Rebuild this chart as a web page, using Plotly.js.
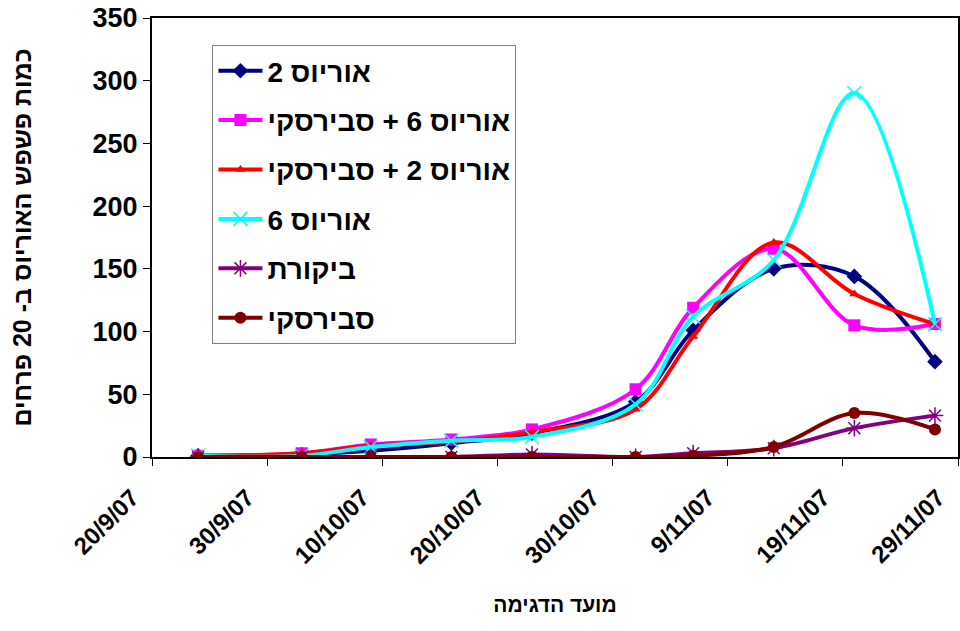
<!DOCTYPE html>
<html>
<head>
<meta charset="utf-8">
<script src="https://cdn.plot.ly/plotly-3.0.1.min.js"></script>
<style>body{margin:0;padding:0;background:#fff;}</style>
</head>
<body>
<div id="chart" style="width:960px;height:631px;"></div>
<script>
// Sampling dates
var dates = ['2007-09-24','2007-10-03','2007-10-09','2007-10-16','2007-10-23','2007-11-01','2007-11-06','2007-11-13','2007-11-20','2007-11-27'];
// Series values (number of Orius bugs per 20 flowers)
var orius2 = [1, 2, 5, 11, 19, 44, 101, 150, 144, 76];
var orius6Swirski = [1, 3, 10, 14, 22, 54, 119, 166, 105, 106];
var orius2Swirski = [1, 3, 9, 12, 20, 38, 96, 171, 130, 106];
var orius6 = [1, 1, 8, 13, 16, 42, 112, 157, 290, 106];
var control = [0, 0, 0, 0, 2, 0, 3, 7, 23, 33];
var swirski = [0, 0, 0, 0, 0, 0, 1, 8, 35, 22];
// Names
var names = ['אוריוס 2', 'אוריוס 6 + סבירסקי', 'אוריוס 2 + סבירסקי', 'אוריוס 6', 'ביקורת', 'סבירסקי'];
// Tick labels
var tickDates = ['2007-09-20','2007-09-30','2007-10-10','2007-10-20','2007-10-30','2007-11-09','2007-11-19','2007-11-29'];
var tickLabels = ['20/9/07','30/9/07','10/10/07','20/10/07','30/10/07','9/11/07','19/11/07','29/11/07'];
var yTitle = 'כמות פשפש האוריוס ב- 20 פרחים';
var xTitle = 'מועד הדגימה';

function rtl(s){ return '\u202B' + s + '\u202C'; }
// day number (date serial) for a date string, as a spreadsheet date axis would use
function dayNum(s){ return Date.parse(s + 'T00:00:00Z') / 86400000; }

var xDays = dates.map(dayNum);
var tickDays = tickDates.map(dayNum);

var series = [orius2, orius6Swirski, orius2Swirski, orius6, control, swirski];
var colors = ['#000080', '#FF00FF', '#FF0000', '#00FFFF', '#800080', '#800000'];
var symbols = ['diamond', 'square', 'triangle-up', 'x-thin-open', 'asterisk-open', 'circle'];
var sizes = [12, 12, 9, 14, 14, 12];

var traces = series.map(function(vals, i){
  var m = {symbol: symbols[i], size: sizes[i], color: colors[i]};
  if (symbols[i].indexOf('open') >= 0) m.line = {color: colors[i], width: 1.5};
  return {
    type: 'scatter', mode: 'lines+markers',
    x: xDays, y: vals, name: rtl(names[i]),
    legendgroup: 'g' + i,
    line: {color: colors[i], width: 4, shape: 'spline', smoothing: 1},
    marker: m
  };
});

var fam = '"Liberation Sans", Arial, sans-serif';
var font = {family: fam, size: 22, color: '#000', weight: 'bold'};

var layout = {
  width: 960, height: 631,
  margin: {l: 152, r: 2, t: 18, b: 174},
  paper_bgcolor: '#fff', plot_bgcolor: '#fff',
  font: font,
  showlegend: true,
  legend: {
    x: 0.075, y: 0.9385, xanchor: 'left', yanchor: 'top',
    bgcolor: '#fff', bordercolor: '#808080', borderwidth: 1,
    font: {family: fam, size: 28, color: '#000', weight: 'bold'},
    tracegroupgap: 10, itemwidth: 44, traceorder: 'grouped'
  },
  xaxis: {
    type: 'linear',
    range: [tickDays[0], tickDays[tickDays.length - 1]],
    tickmode: 'array', tickvals: tickDays, ticktext: tickLabels,
    tickangle: -45, ticks: 'outside', ticklen: 7, tickwidth: 1, tickcolor: '#000',
    ticklabelstandoff: 8, ticklabelshift: -20,
    showgrid: false, zeroline: false,
    showline: true, linecolor: '#000', linewidth: 2, mirror: true,
    tickfont: {family: fam, size: 24, color: '#000', weight: 'bold'},
    title: {text: rtl(xTitle), font: {family: fam, size: 21, color: '#000', weight: 'bold'}, standoff: 29}
  },
  yaxis: {
    range: [0, 350], dtick: 50, tick0: 0,
    ticks: 'outside', ticklen: 7, tickwidth: 1, tickcolor: '#000',
    showgrid: false, zeroline: false,
    showline: true, linecolor: '#000', linewidth: 2, mirror: true,
    tickfont: {family: fam, size: 27, color: '#000', weight: 'bold'},
    title: {text: rtl(yTitle), font: {family: fam, size: 25, color: '#000', weight: 'bold'}, standoff: 54}
  }
};

Plotly.newPlot('chart', traces, layout, {displayModeBar: false, staticPlot: true});
</script>
</body>
</html>
